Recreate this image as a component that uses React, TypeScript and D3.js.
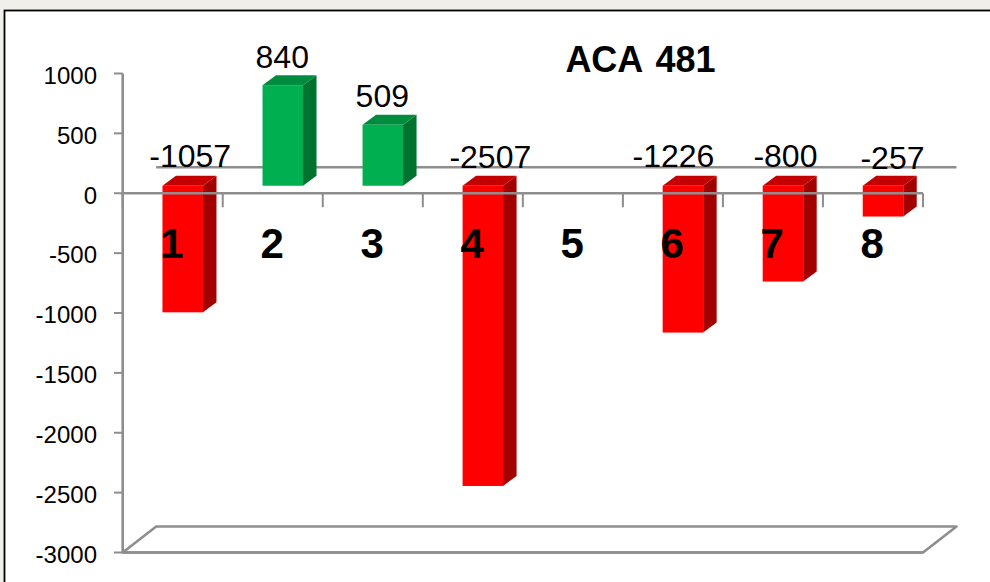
import React from "react";
import * as d3 from "d3";

const title = "ACA 481";
const categories = ["1", "2", "3", "4", "5", "6", "7", "8"];
const values: (number | null)[] = [-1057, 840, 509, -2507, null, -1226, -800, -257];
const yTicks = [1000, 500, 0, -500, -1000, -1500, -2000, -2500, -3000];
const labelNudgeX = [8, 0, 0, 8, 0, -9, 3, 10];
const labelNudgeY = [0, 0, 0, 1, 0, 0, 0, 2];

const W = 990, H = 582;
const GREY = "#8e8e8e";
const FONT = "'Liberation Sans', Arial, sans-serif";

export default function App() {
  const y = d3.scaleLinear().domain([-3000, 1000]).range([552.5, 73.5]);
  const x = d3.scaleBand<string>().domain(categories).range([122.7, 923]).paddingInner(0).paddingOuter(0);
  const bw = x.bandwidth();
  const faceW = 40.5;
  const frontShiftX = 10 - faceW / 2; // front face offset from band centre
  const frontShiftY = -7.5;           // front plane sits above the axis plane
  const dx = 13.5, dy = -10;          // bar depth
  const wallDx = 33.5, wallDy = -26;  // chart box depth
  const x0 = x.range()[0], x1 = x.range()[1];
  const yBottom = y(-3000), yZero = y(0);
  const lw = 2.6;

  return (
    <svg
      width={W}
      height={H}
      viewBox={`0 0 ${W} ${H}`}
      style={{ position: "absolute", left: 0, top: 0, display: "block" }}
      fontFamily={FONT}
    >
      <rect width={W} height={H} fill="#f1efe9" />
      <rect x={4.5} y={10.5} width={W} height={H} fill="#fff" stroke="#000" strokeWidth={1.8} />

      {/* back wall and floor */}
      <line x1={x0 + wallDx} x2={x1 + wallDx} y1={yZero + wallDy} y2={yZero + wallDy} stroke={GREY} strokeWidth={lw} />
      <path
        d={`M${x0},${yBottom}L${x0 + wallDx},${yBottom + wallDy}H${x1 + wallDx}L${x1},${yBottom}Z`}
        fill="#fff"
        stroke={GREY}
        strokeWidth={lw}
        strokeLinejoin="round"
      />

      {/* bars */}
      {values.map((v, i) => {
        if (v === null) return null;
        const c = x(categories[i])! + bw / 2;
        const l = c + frontShiftX;
        const r = l + faceW;
        const yv = y(v) + frontShiftY;
        const yb = yZero + frontShiftY;
        const top = Math.min(yv, yb), bottom = Math.max(yv, yb);
        const pos = v > 0;
        return (
          <g key={categories[i]}>
            <path d={`M${r},${top}L${r + dx},${top + dy}V${bottom + dy}L${r},${bottom}Z`} fill={pos ? "#00722f" : "#a30000"} />
            <path d={`M${l},${top}L${l + dx},${top + dy}H${r + dx}L${r},${top}Z`} fill={pos ? "#008c3e" : "#c40000"} />
            <rect x={l} y={top} width={faceW} height={bottom - top} fill={pos ? "#00b050" : "#ff0000"} />
          </g>
        );
      })}

      {/* axes */}
      <line x1={x0} x2={x0} y1={y(1000)} y2={yBottom} stroke={GREY} strokeWidth={lw} />
      <line x1={x0} x2={x1} y1={yZero} y2={yZero} stroke={GREY} strokeWidth={lw} />
      <line x1={x0} x2={x1} y1={yBottom} y2={yBottom} stroke={GREY} strokeWidth={lw} />
      {yTicks.map((t) => (
        <g key={t}>
          <line x1={114} x2={x0} y1={y(t)} y2={y(t)} stroke={GREY} strokeWidth={2} />
          <text x={97} y={y(t) + 10.3} textAnchor="end" fontSize={24} fill="#000">{t}</text>
        </g>
      ))}
      {[...categories.map((c) => x(c)!), x1].map((p, i) => (
        <line key={i} x1={p} x2={p} y1={yZero} y2={yZero + 14} stroke={GREY} strokeWidth={2} />
      ))}

      {/* category numbers */}
      {categories.map((c) => (
        <text key={c} x={x(c)! + bw / 2 - 0.7} y={258} textAnchor="middle" fontSize={42} fontWeight="bold" fill="#000">{c}</text>
      ))}

      {/* value labels */}
      {values.map((v, i) => {
        if (v === null) return null;
        const c = x(categories[i])! + bw / 2 + 9.5 + labelNudgeX[i];
        const ly = v > 0 ? y(v) + frontShiftY + dy - 7.5 : 166.5 + labelNudgeY[i];
        return (
          <text key={categories[i]} x={c} y={ly} textAnchor="middle" fontSize={32} fill="#000">{v}</text>
        );
      })}

      <text x={640.5} y={72} textAnchor="middle" fontSize={36} fontWeight="bold" fill="#000" wordSpacing={3.5}>{title}</text>
    </svg>
  );
}
